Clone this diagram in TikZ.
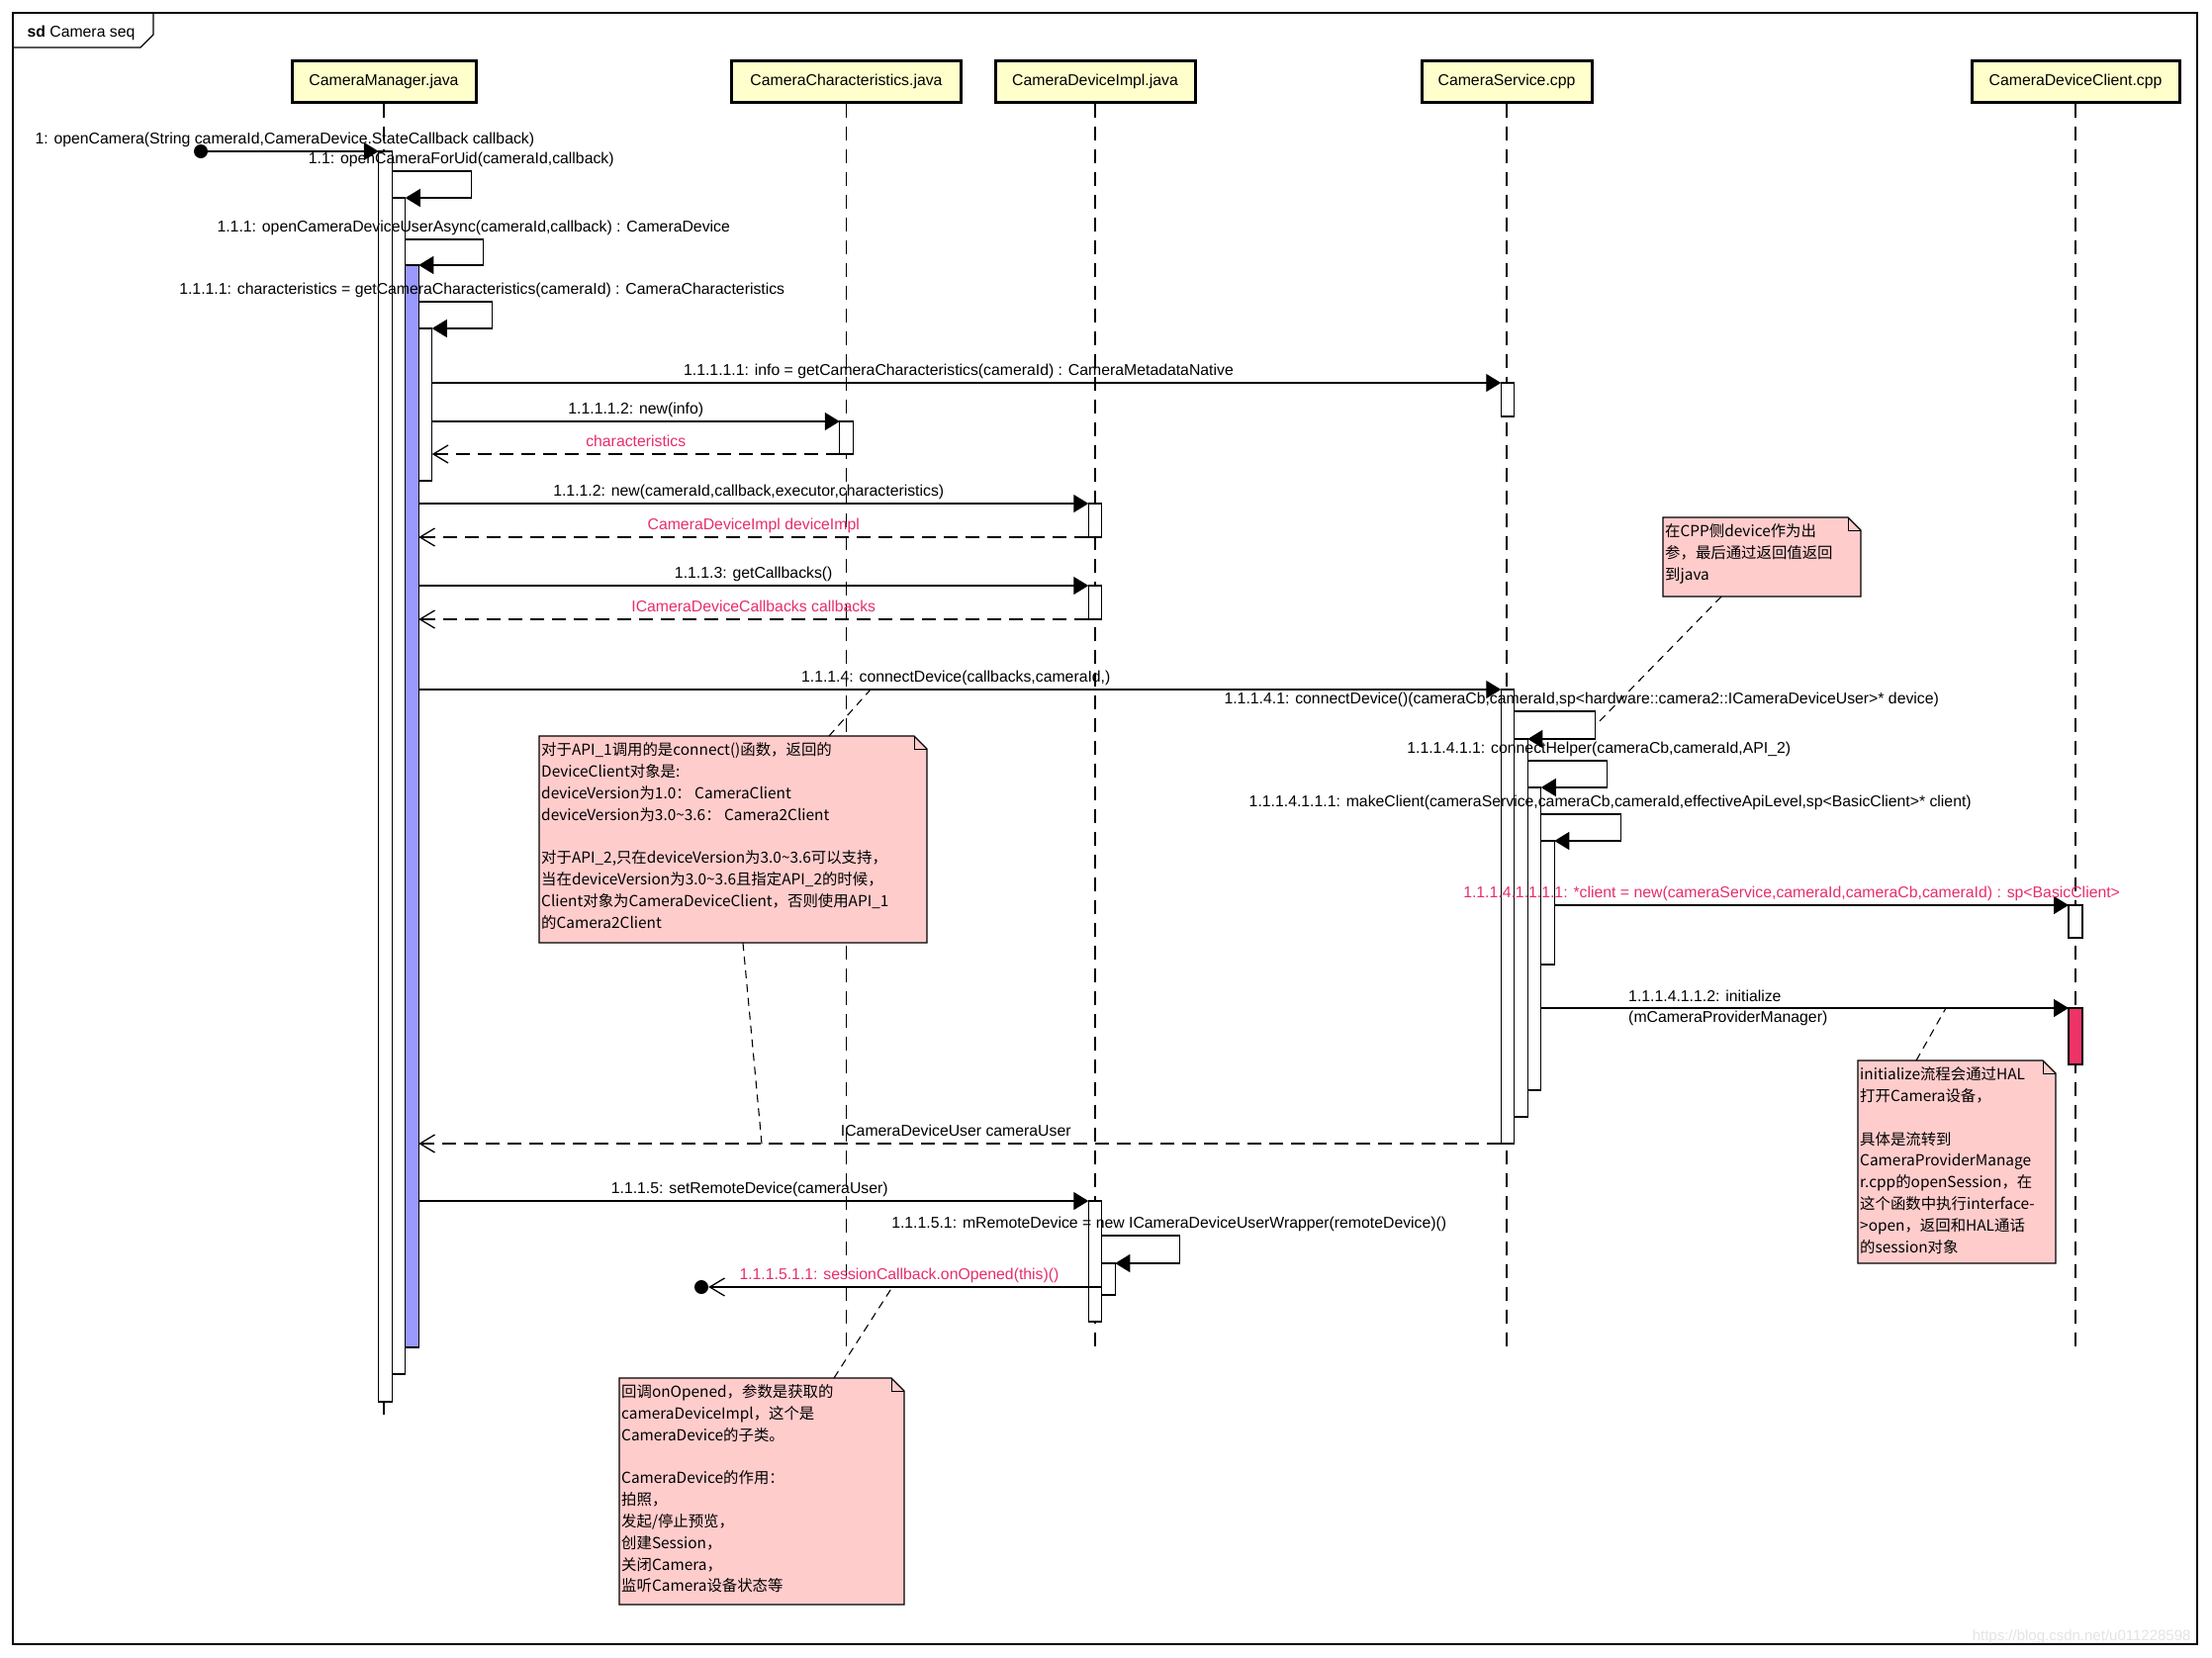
\documentclass[tikz,border=0pt]{standalone}
\usepackage{fontspec}
\setmainfont{Liberation Sans}
\newfontfamily\cjk{Noto Sans CJK SC}
\usetikzlibrary{arrows.meta}
\definecolor{headfill}{RGB}{255,255,204}
\definecolor{actblue}{RGB}{153,153,255}
\definecolor{actred}{RGB}{238,51,102}
\definecolor{notefill}{RGB}{255,204,204}
\definecolor{retpink}{RGB}{230,46,106}
\newcommand{\msgfont}{\fontsize{15.8}{21}\selectfont}
\newcommand{\notefont}{\cjk\fontsize{15.4}{21.8}\selectfont}
\newcommand{\foldnote}[1]{%
  \fill[white] ([xshift=-13pt]#1.north east) -- (#1.north east) -- ([yshift=-13pt]#1.north east) -- cycle;
  \draw[line width=1.3pt] (#1.south west) -- (#1.north west) -- ([xshift=-13pt]#1.north east)
    -- ([yshift=-13pt]#1.north east) -- (#1.south east) -- cycle;
  \draw[line width=1pt] ([xshift=-13pt]#1.north east) |- ([yshift=-13pt]#1.north east);
}

\begin{document}
\begin{tikzpicture}[
  x=1pt, y=-1pt,
  head/.style={rectangle, draw, line width=3pt, fill=headfill, minimum height=42pt, inner sep=0pt, font=\msgfont},
  life/.style={line width=1.4pt, dash pattern=on 14pt off 9pt},
  bar/.style={rectangle, draw, fill=white, line width=1.2pt, minimum width=13.5pt, inner sep=0pt, outer sep=0pt, anchor=north},
  call/.style={line width=1.3pt, -{Triangle[length=15pt,width=18pt]}},
  ret/.style={line width=1.3pt, dash pattern=on 14pt off 8pt, -{Straight Barb[length=15pt,width=18pt,line width=1.3pt]}},
  lostmsg/.style={line width=1.3pt, -{Straight Barb[length=15pt,width=18pt,line width=1.3pt]}},
  dot/.style={circle, fill=black, inner sep=0pt, minimum size=14pt},
  lbl/.style={font=\msgfont, inner sep=2.5pt, text depth=4pt},
  rlbl/.style={lbl, text=retpink},
  twolbl/.style={font=\msgfont, inner sep=2.5pt, align=left},
  note/.style={rectangle, fill=notefill, anchor=north west, inner sep=0pt, outer sep=0pt},
  notetext/.style={anchor=north west, align=left, font=\notefont, inner xsep=2pt, inner ysep=6.5pt},
  link/.style={line width=1.1pt, dash pattern=on 8pt off 6pt}
]
\useasboundingbox (0,0) rectangle (2236,1676);

\draw[line width=1.5pt] (13,13) rectangle (2221,1662);
\draw[line width=1.3pt] (13,48) -- (142,48) -- (155,35) -- (155,13);
\node[font=\msgfont, anchor=west] (title) at (24,33) {\textbf{sd} Camera seq};

\node[head, minimum width=186pt] (mgr) at (388,82) {CameraManager.java};
\node[head, minimum width=232pt] (chr) at (855.5,82) {CameraCharacteristics.java};
\node[head, minimum width=202pt] (impl) at (1107,82) {CameraDeviceImpl.java};
\node[head, minimum width=172pt] (svc) at (1523,82) {CameraService.cpp};
\node[head, minimum width=210pt] (cli) at (2098,82) {CameraDeviceClient.cpp};

\draw[life] (mgr.south) -- ++(0,1332);
\draw[life] (chr.south) -- ++(0,1262);
\draw[life] (impl.south) -- ++(0,1262);
\draw[life] (svc.south) -- ++(0,1262);
\draw[life] (cli.south) -- ++(0,1262);

\node[bar, minimum height=1264pt] (mgr1) at (389.5,153) {};
\node[bar, minimum height=1189pt] (mgr2) at (403,200) {};
\node[bar, minimum height=1094pt, fill=actblue] (mgr3) at (416.5,268) {};
\node[bar, minimum height=154pt] (mgr4) at (430,332) {};
\node[bar, minimum height=33pt] (ch1) at (855.5,426) {};
\node[bar, minimum height=34pt] (impl1) at (1107,509) {};
\node[bar, minimum height=34pt] (impl2) at (1107,592) {};
\node[bar, minimum height=122pt] (impl3) at (1107,1214) {};
\node[bar, minimum height=32pt] (impl4) at (1120.5,1277) {};
\node[bar, minimum height=34pt] (svc0) at (1524,387) {};
\node[bar, minimum height=459pt] (svcA) at (1524,697) {};
\node[bar, minimum height=382pt] (svcB) at (1537.5,747) {};
\node[bar, minimum height=306pt] (svcC) at (1551,796) {};
\node[bar, minimum height=125pt] (svcD) at (1564.5,850) {};
\node[bar, minimum height=33pt, minimum width=14pt] (cl1) at (2098,915) {};
\node[bar, minimum height=57pt, minimum width=14pt, fill=actred] (cl2) at (2098,1019) {};

\node[dot] (found) at (203,153) {};
\draw[call] (found.center) -- node[lbl, above, xshift=-5pt] {1: openCamera(String cameraId,CameraDevice.StateCallback callback)} (mgr1.north west);
\draw[call] ([yshift=27pt]mgr2.north -| mgr1.east) -- ++(80,0) node[lbl, above, xshift=-10pt] {1.1: openCameraForUid(cameraId,callback)} |- (mgr2.north east);
\draw[call] ([yshift=26pt]mgr3.north -| mgr2.east) -- ++(79,0) node[lbl, above, xshift=-10pt] {1.1.1: openCameraDeviceUserAsync(cameraId,callback) : CameraDevice} |- (mgr3.north east);
\draw[call] ([yshift=27pt]mgr4.north -| mgr3.east) -- ++(74,0) node[lbl, above, xshift=-10pt] {1.1.1.1: characteristics = getCameraCharacteristics(cameraId) : CameraCharacteristics} |- (mgr4.north east);
\draw[call] (mgr4.east |- svc0.north) -- node[lbl, above, xshift=-8pt] {1.1.1.1.1: info = getCameraCharacteristics(cameraId) : CameraMetadataNative} (svc0.north west);
\draw[call] (mgr4.east |- ch1.north) -- node[lbl, above] {1.1.1.1.2: new(info)} (ch1.north west);
\draw[ret] (ch1.south west) -- node[rlbl, above] {characteristics} (mgr4.east |- ch1.south);
\draw[call] (mgr3.east |- impl1.north) -- node[lbl, above, xshift=-5pt] {1.1.1.2: new(cameraId,callback,executor,characteristics)} (impl1.north west);
\draw[ret] (impl1.south west) -- node[rlbl, above] {CameraDeviceImpl deviceImpl} (mgr3.east |- impl1.south);
\draw[call] (mgr3.east |- impl2.north) -- node[lbl, above] {1.1.1.3: getCallbacks()} (impl2.north west);
\draw[ret] (impl2.south west) -- node[rlbl, above] {ICameraDeviceCallbacks callbacks} (mgr3.east |- impl2.south);
\draw[call] (mgr3.east |- svcA.north) -- node[lbl, above, xshift=-4pt] {1.1.1.4: connectDevice(callbacks,cameraId,)} (svcA.north west);
\draw[call] ([yshift=28pt]svcB.north -| svcA.east) -- ++(82,0) node[lbl, above, xshift=-14pt] {1.1.1.4.1: connectDevice()(cameraCb,cameraId,sp<hardware::camera2::ICameraDeviceUser>* device)} |- (svcB.north east);
\draw[call] ([yshift=27pt]svcC.north -| svcB.east) -- ++(80,0) node[lbl, above, xshift=-8pt] {1.1.1.4.1.1: connectHelper(cameraCb,cameraId,API\_2)} |- (svcC.north east);
\draw[call] ([yshift=27pt]svcD.north -| svcC.east) -- ++(81,0) node[lbl, above, xshift=-11pt] {1.1.1.4.1.1.1: makeClient(cameraService,cameraCb,cameraId,effectiveApiLevel,sp<BasicClient>* client)} |- (svcD.north east);
\draw[call] (svcD.east |- cl1.north) -- node[rlbl, above, xshift=-20pt] {1.1.1.4.1.1.1.1: *client = new(cameraService,cameraId,cameraCb,cameraId) : sp<BasicClient>} (cl1.north west);
\draw[call] (svcC.east |- cl2.north) -- node[twolbl, pos=0.16, anchor=west] {1.1.1.4.1.1.2: initialize\\(mCameraProviderManager)} (cl2.north west);
\draw[ret] (svcA.south west) -- node[lbl, above, xshift=-4pt] {ICameraDeviceUser cameraUser} (mgr3.east |- svcA.south);
\draw[call] (mgr3.east |- impl3.north) -- node[lbl, above, xshift=-4pt] {1.1.1.5: setRemoteDevice(cameraUser)} (impl3.north west);
\draw[call] ([yshift=28pt]impl4.north -| impl3.east) -- ++(79,0) node[lbl, above, xshift=-11pt] {1.1.1.5.1: mRemoteDevice = new ICameraDeviceUserWrapper(remoteDevice)()} |- (impl4.north east);
\node[dot] (lost) at (709,1301) {};
\draw[lostmsg] ([yshift=-24pt]impl4.north west) -- node[rlbl, above, xshift=-6pt] {1.1.1.5.1.1: sessionCallback.onOpened(this)()} (lost);

\node[note, minimum width=392pt, minimum height=209pt] (apinote) at (545,744) {};
\foldnote{apinote}
\node[notetext] (apitext) at (apinote.north west) {对于API\_1调用的是connect()函数，返回的\\DeviceClient对象是:\\deviceVersion为1.0： CameraClient\\deviceVersion为3.0\textasciitilde3.6： Camera2Client\\[21.8pt]对于API\_2,只在deviceVersion为3.0\textasciitilde3.6可以支持，\\当在deviceVersion为3.0\textasciitilde3.6且指定API\_2的时候，\\Client对象为CameraDeviceClient，否则使用API\_1\\的Camera2Client};
\node[note, minimum width=200pt, minimum height=80pt] (cppnote) at (1681,523) {};
\foldnote{cppnote}
\node[notetext] (cpptext) at (cppnote.north west) {在CPP侧device作为出\\参，最后通过返回值返回\\到java};
\node[note, minimum width=200pt, minimum height=205pt] (initnote) at (1878,1072) {};
\foldnote{initnote}
\node[notetext] (inittext) at (initnote.north west) {initialize流程会通过HAL\\打开Camera设备，\\[21.8pt]具体是流转到\\CameraProviderManage\\r.cpp的openSession，在\\这个函数中执行interface-\\>open，返回和HAL通话\\的session对象};
\node[note, minimum width=288pt, minimum height=229pt] (opennote) at (626,1393) {};
\foldnote{opennote}
\node[notetext] (opentext) at (opennote.north west) {回调onOpened，参数是获取的\\cameraDeviceImpl，这个是\\CameraDevice的子类。\\[21.8pt]CameraDevice的作用：\\拍照，\\发起/停止预览，\\创建Session，\\关闭Camera，\\监听Camera设备状态等};

\coordinate (apiup) at (880,697);
\coordinate (apidown) at (770,1156);
\coordinate (cppend) at (1614,732);
\coordinate (initend) at (1967,1019);
\coordinate (openend) at (902,1301);
\draw[link] ([xshift=293pt]apinote.north west) -- (apiup);
\draw[link] ([xshift=206pt]apinote.south west) -- (apidown);
\draw[link] ([xshift=59pt]cppnote.south west) -- (cppend);
\draw[link] ([xshift=59pt]initnote.north west) -- (initend);
\draw[link] ([xshift=217pt]opennote.north west) -- (openend);

\node[font=\fontsize{15}{18}\selectfont, text=gray!22, anchor=east] (mark) at (2218,1655) {https://blog.csdn.net/u011228598};
\end{tikzpicture}
\end{document}
